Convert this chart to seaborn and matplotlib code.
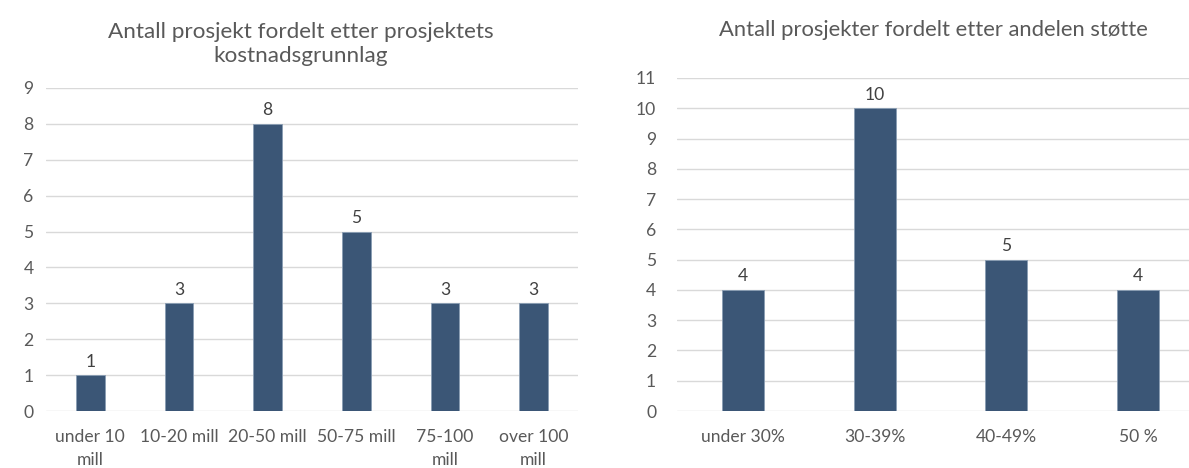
import matplotlib
matplotlib.use("Agg")
import matplotlib.pyplot as plt
import seaborn as sns
import pandas as pd

# Data
cost_categories = ["under 10\nmill", "10-20 mill", "20-50 mill", "50-75 mill", "75-100\nmill", "over 100\nmill"]
cost_counts = [1, 3, 8, 5, 3, 3]

support_categories = ["under 30%", "30-39%", "40-49%", "50 %"]
support_counts = [4, 10, 5, 4]

left_title = "Antall prosjekt fordelt etter prosjektets\nkostnadsgrunnlag"
right_title = "Antall prosjekter fordelt etter andelen støtte"

sns.set_theme(style="white")
plt.rcParams["font.family"] = ["Lato", "DejaVu Sans"]

BAR = "#3B5676"
EDGE = "#8A9DB4"
GRID = "#D9D9D9"
TEXT = "#595959"

W, H = 1189, 468
fig = plt.figure(figsize=(W / 100, H / 100), dpi=100)
fig.patch.set_facecolor("white")


def px_axes(x0, x1, y_bottom, y_top):
    return fig.add_axes([x0 / W, (H - y_bottom) / H, (x1 - x0) / W, (y_bottom - y_top) / H])


ax1 = px_axes(46, 578, 411, 88)
ax2 = px_axes(677, 1204, 411, 78)

panels = [
    (ax1, cost_categories, cost_counts, 9, 9),
    (ax2, support_categories, support_counts, 11, 15),
]

for ax, cats, vals, ymax, ypad in panels:
    df = pd.DataFrame({"cat": cats, "n": vals})
    sns.barplot(data=df, x="cat", y="n", ax=ax, color=BAR, width=0.32,
                saturation=1, edgecolor=EDGE, linewidth=0.6, zorder=3)
    ax.set_xlim(-0.5, len(cats) - 0.5)
    ax.set_ylim(0, ymax)
    ax.set_yticks(range(0, ymax + 1))
    ax.yaxis.grid(True, color=GRID, linewidth=1.0, zorder=0)
    ax.set_axisbelow(True)
    for s in ax.spines.values():
        s.set_visible(False)
    ax.set_xlabel("")
    ax.set_ylabel("")
    ax.tick_params(axis="both", length=0, labelsize=12.6, colors=TEXT)
    ax.tick_params(axis="y", pad=ypad)
    ax.tick_params(axis="x", pad=13)
    for lbl in ax.get_xticklabels():
        lbl.set_linespacing(1.55)
    ax.bar_label(ax.containers[0], labels=[str(v) for v in vals],
                 padding=4, fontsize=12.6, color="#404040")
    ax.patch.set_alpha(0)

fig.text(301 / W, 1 - 44 / H, left_title, ha="center", va="center",
         fontsize=16.2, color=TEXT, linespacing=1.2)
fig.text(933 / W, 1 - 30 / H, right_title, ha="center", va="center",
         fontsize=15.8, color=TEXT)

fig.savefig("out.png", dpi=100, facecolor="white")
